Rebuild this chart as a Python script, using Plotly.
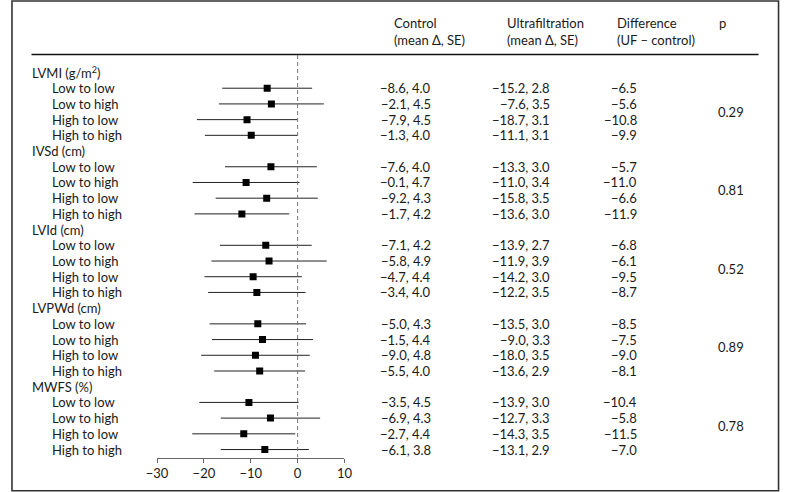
import plotly.graph_objects as go

# ---------------- data ----------------
groups = ["LVMI (g/m<sup>2</sup>)", "IVSd (cm)", "LVId (cm)", "LVPWd (cm)", "MWFS (%)"]
subgroups = ["Low to low", "Low to high", "High to low", "High to high"]

control_mean = [[-8.6, -2.1, -7.9, -1.3],
                [-7.6, -0.1, -9.2, -1.7],
                [-7.1, -5.8, -4.7, -3.4],
                [-5.0, -1.5, -9.0, -5.5],
                [-3.5, -6.9, -2.7, -6.1]]
control_se = [[4.0, 4.5, 4.5, 4.0],
              [4.0, 4.7, 4.3, 4.2],
              [4.2, 4.9, 4.4, 4.0],
              [4.3, 4.4, 4.8, 4.0],
              [4.5, 4.3, 4.4, 3.8]]
uf_mean = [[-15.2, -7.6, -18.7, -11.1],
           [-13.3, -11.0, -15.8, -13.6],
           [-13.9, -11.9, -14.2, -12.2],
           [-13.5, -9.0, -18.0, -13.6],
           [-13.9, -12.7, -14.3, -13.1]]
uf_se = [[2.8, 3.5, 3.1, 3.1],
         [3.0, 3.4, 3.5, 3.0],
         [2.7, 3.9, 3.0, 3.5],
         [3.0, 3.3, 3.5, 2.9],
         [3.0, 3.3, 3.5, 2.9]]
difference = [[-6.5, -5.6, -10.8, -9.9],
              [-5.7, -11.0, -6.6, -11.9],
              [-6.8, -6.1, -9.5, -8.7],
              [-8.5, -7.5, -9.0, -8.1],
              [-10.4, -5.8, -11.5, -7.0]]
ci_low = [[-16.1, -16.8, -21.5, -19.8],
          [-15.5, -22.4, -17.5, -22.0],
          [-16.6, -18.4, -19.9, -19.1],
          [-18.8, -18.3, -20.6, -17.8],
          [-21.0, -16.4, -22.5, -16.4]]
ci_high = [[3.1, 5.6, -0.1, 0.0],
           [4.1, 0.4, 4.3, -1.8],
           [3.0, 6.2, 0.9, 1.7],
           [1.8, 3.3, 2.6, 1.6],
           [0.2, 4.8, -0.5, 2.4]]
p_values = ["0.29", "0.81", "0.52", "0.89", "0.78"]

tick_vals = [-30, -20, -10, 0, 10]
tick_text = ["\u221230", "\u221220", "\u221210", "0", "10"]

headers = [("Control", "(mean \u0394, SE)"),
           ("Ultrafiltration", "(mean \u0394, SE)"),
           ("Difference", "(UF \u2013 control)"),
           ("p", "")]

# ---------------- layout helpers ----------------
W, H = 788, 492
FONT = "Lato"
FS = 13
TXT = "#1a1a1a"
ROW0_PX = 72.5      # pixel y of first row
ROW_PX = 15.71      # row pitch
AXIS_PX = 457.5     # pixel y of x-axis line


def fmt(v):
    s = f"{v:.1f}"
    return s.replace("-", "\u2212")


def row_of(g, k):
    return g * 5 + 1 + k


# ---------------- traces ----------------
xs, ys, ep, em = [], [], [], []
for g in range(len(groups)):
    for k in range(len(subgroups)):
        d = difference[g][k]
        xs.append(d)
        ys.append(row_of(g, k))
        ep.append(ci_high[g][k] - d)
        em.append(d - ci_low[g][k])

fig = go.Figure()
fig.add_trace(go.Scatter(
    x=xs, y=ys, mode="markers",
    marker=dict(symbol="square", size=7, color="black"),
    error_x=dict(type="data", symmetric=False, array=ep, arrayminus=em,
                 width=0, thickness=1, color="#222"),
    hoverinfo="skip", showlegend=False,
))

# ---------------- annotations ----------------
ann = []


def add_text(text, xpx, y, yref="y", anchor="left", size=FS):
    ann.append(dict(text=text, x=xpx / W, xref="paper", y=y, yref=yref,
                    xanchor=anchor, yanchor="middle", showarrow=False,
                    borderpad=0,
                    font=dict(family=FONT, size=size, color=TXT)))


for g, name in enumerate(groups):
    add_text(name, 21, g * 5)
    for k, sub in enumerate(subgroups):
        r = row_of(g, k)
        add_text(sub, 41, r)
        add_text(f"{fmt(control_mean[g][k])}, {control_se[g][k]:.1f}", 431, r, anchor="right")
        add_text(f"{fmt(uf_mean[g][k])}, {uf_se[g][k]:.1f}", 553, r, anchor="right")
        add_text(fmt(difference[g][k]), 642, r, anchor="right")
    add_text(p_values[g], 723, g * 5 + 2.5)

head_x = [391, 507, 620, 724]
for (l1, l2), hx in zip(headers, head_x):
    add_text(l1, hx, 1 - 23 / H, yref="paper")
    if l2:
        add_text(l2, hx, 1 - 40 / H, yref="paper")

# ---------------- shapes ----------------
rule_row = (55 - ROW0_PX) / ROW_PX
axis_row = (AXIS_PX - ROW0_PX) / ROW_PX
top_row = (0 - ROW0_PX) / ROW_PX

shapes = [
    # header rule
    dict(type="line", xref="paper", yref="paper", x0=21 / W, x1=766 / W,
         y0=1 - 54.5 / H, y1=1 - 54.5 / H, line=dict(color="#111", width=1.3)),
    # zero reference line
    dict(type="line", xref="x", yref="y", x0=0, x1=0, y0=rule_row, y1=axis_row,
         line=dict(color="#777", width=1, dash="4px,3px")),
    # outer frame
    dict(type="rect", xref="paper", yref="paper", x0=1 / W, x1=786.5 / W,
         y0=1 - 490.7 / H, y1=1 - 1 / H, line=dict(color="#333", width=1.6)),
]

fig.update_layout(
    width=W, height=H, autosize=False,
    margin=dict(l=0, r=0, t=0, b=0, pad=0),
    paper_bgcolor="white", plot_bgcolor="white",
    showlegend=False, hovermode=False,
    font=dict(family=FONT, size=FS, color=TXT),
    xaxis=dict(domain=[149.7 / W, 341.7 / W], range=[-30, 10],
               tickvals=tick_vals, ticktext=tick_text,
               showline=True, linecolor="#666", linewidth=1,
               ticks="outside", ticklen=4, tickcolor="#666", tickwidth=1,
               showgrid=False, zeroline=False, fixedrange=True,
               tickfont=dict(family=FONT, size=FS, color=TXT)),
    yaxis=dict(domain=[(H - AXIS_PX) / H, 1], range=[axis_row, top_row],
               showline=False, showticklabels=False, ticks="",
               showgrid=False, zeroline=False, fixedrange=True),
    annotations=ann, shapes=shapes,
)

fig.write_html(
    "out.html",
    config={"displayModeBar": False},
    post_script="document.body.style.margin='0px';document.body.style.overflow='hidden';",
)
